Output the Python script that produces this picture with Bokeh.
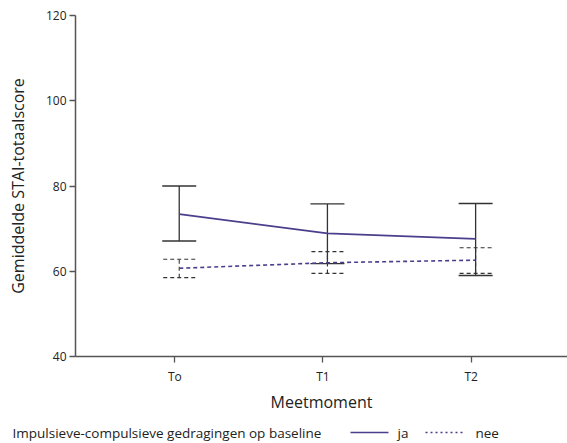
from bokeh.plotting import figure
from bokeh.models import ColumnDataSource, Whisker, TeeHead, Range1d, FixedTicker
from bokeh.embed import file_html
from bokeh.resources import INLINE
from bokeh.core.properties import value

# ---- data ----
moments = ["To", "T1", "T2"]
x_pos = [0, 1, 2]
ja_mean = [73.4, 68.9, 67.6]
ja_upper = [80.0, 75.8, 75.9]
ja_lower = [67.1, 61.8, 59.0]
nee_mean = [60.7, 62.0, 62.6]
nee_upper = [62.8, 64.6, 65.5]
nee_lower = [58.5, 59.5, 59.5]
y_ticks = [40, 60, 80, 100, 120]
legend_title = "Impulsieve-compulsieve gedragingen op baseline"
legend_labels = ["ja", "nee"]

FONT = "Open Sans"
PURPLE = "#4a3f8c"
AXC = "#555555"
TXT = "#222222"

dodge = 0.03
xs = [x + dodge for x in x_pos]

p = figure(width=567, height=420, output_backend="svg", toolbar_location=None,
           x_range=Range1d(-0.67, 2.65), y_range=Range1d(40, 120),
           min_border_left=75, min_border_right=0, min_border_top=15,
           min_border_bottom=64)
p.outline_line_color = None
p.grid.visible = False

src_ja = ColumnDataSource(dict(x=xs, m=ja_mean, u=ja_upper, l=ja_lower))
src_nee = ColumnDataSource(dict(x=xs, m=nee_mean, u=nee_upper, l=nee_lower))

w_ja = Whisker(source=src_ja, base="x", upper="u", lower="l", dimension="height",
               line_color="#333333", line_width=1.3,
               upper_head=TeeHead(size=34, line_color="#333333", line_width=1.3),
               lower_head=TeeHead(size=34, line_color="#333333", line_width=1.3))
w_nee = Whisker(source=src_nee, base="x", upper="u", lower="l", dimension="height",
                line_color="#333333", line_width=1.1, line_dash="4 3",
                upper_head=TeeHead(size=32, line_color="#333333", line_width=1.1, line_dash="4 3"),
                lower_head=TeeHead(size=32, line_color="#333333", line_width=1.1, line_dash="4 3"))
p.add_layout(w_ja)
p.add_layout(w_nee)

p.line("x", "m", source=src_ja, line_color=PURPLE, line_width=1.8)
p.line("x", "m", source=src_nee, line_color=PURPLE, line_width=1.6, line_dash="4 3")

for ax in (p.xaxis[0], p.yaxis[0]):
    ax.axis_line_color = AXC
    ax.axis_line_width = 1.5
    ax.major_tick_line_color = AXC
    ax.major_tick_line_width = 1.3
    ax.major_tick_out = 6
    ax.major_tick_in = 0
    ax.minor_tick_line_color = None
    ax.major_label_text_font = FONT
    ax.major_label_text_font_size = "12px"
    ax.major_label_text_color = TXT
    ax.axis_label_text_font = FONT
    ax.axis_label_text_font_style = "normal"
    ax.axis_label_text_font_size = "16px"
    ax.axis_label_text_color = TXT

p.xaxis.ticker = FixedTicker(ticks=x_pos)
p.xaxis.major_label_overrides = {x: lab for x, lab in zip(x_pos, moments)}
p.xaxis.axis_label = "Meetmoment"
p.xaxis.major_label_standoff = 5
p.xaxis.axis_label_standoff = 3

p.yaxis.ticker = FixedTicker(ticks=y_ticks)
p.yaxis.axis_label = "Gemiddelde STAI-totaalscore"
p.yaxis.major_label_standoff = 3
p.yaxis.axis_label_standoff = 14

# ---- legend strip ----
lg = figure(width=567, height=23, output_backend="svg", toolbar_location=None,
            x_range=Range1d(0, 567), y_range=Range1d(0, 23),
            x_axis_type=None, y_axis_type=None, min_border=0)
lg.outline_line_color = None
lg.grid.visible = False
ly = 11
lg.text(x=[12], y=[ly], text=[legend_title], text_font=value(FONT),
        text_font_size="13.5px", text_baseline="middle", text_color=TXT)
lg.line(x=[350, 388], y=[ly, ly], line_color=PURPLE, line_width=1.5)
lg.text(x=[397], y=[ly], text=[legend_labels[0]], text_font=value(FONT),
        text_font_size="13.5px", text_baseline="middle", text_color=TXT)
lg.line(x=[425, 464], y=[ly, ly], line_color=PURPLE, line_width=1.5, line_dash="2 3")
lg.text(x=[475], y=[ly], text=[legend_labels[1]], text_font=value(FONT),
        text_font_size="13.5px", text_baseline="middle", text_color=TXT)

open("out.html", "w").write(file_html([p, lg], INLINE))
